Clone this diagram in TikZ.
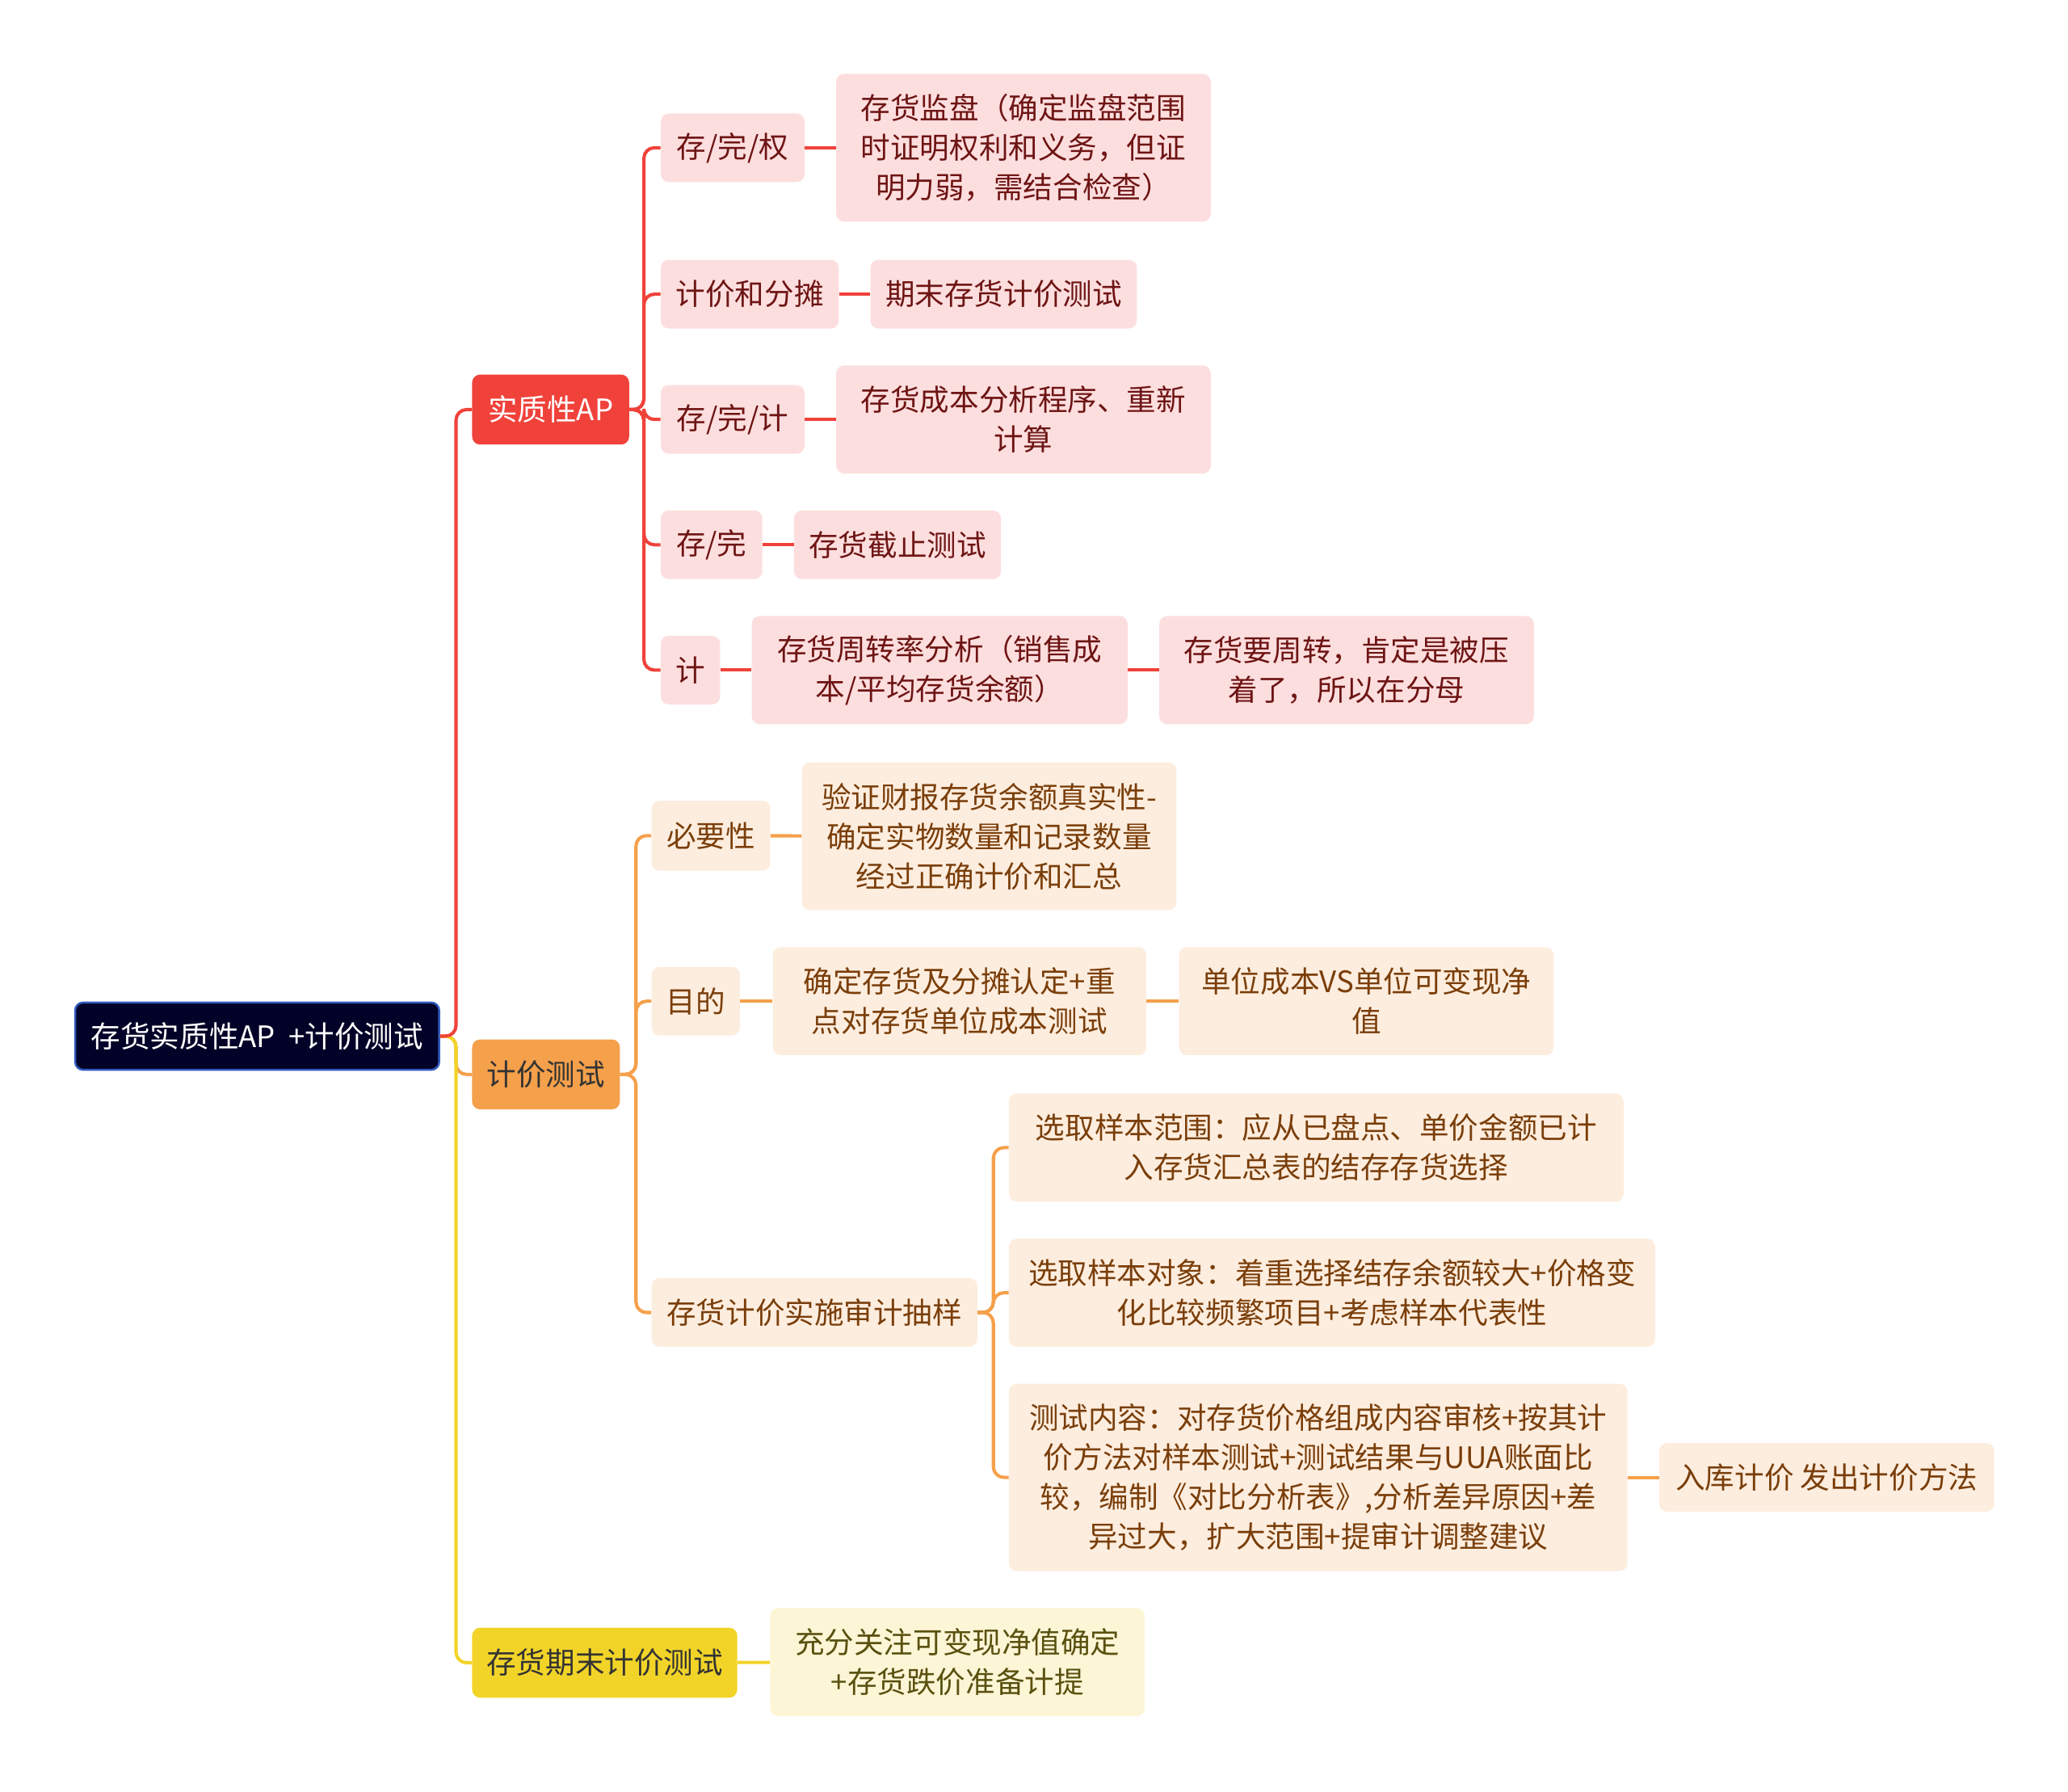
\documentclass[tikz,border=0pt]{standalone}
\usepackage{fontspec}
\newfontfamily\cjk{Noto Sans CJK SC}
\definecolor{navy}{RGB}{2, 2, 40}
\definecolor{navyedge}{RGB}{50, 90, 190}
\definecolor{redmain}{RGB}{240, 66, 58}
\definecolor{redsoft}{RGB}{253, 222, 222}
\definecolor{redtext}{RGB}{110, 20, 20}
\definecolor{orgmain}{RGB}{245, 160, 75}
\definecolor{orgsoft}{RGB}{253, 237, 222}
\definecolor{orgtext}{RGB}{122, 62, 10}
\definecolor{yelmain}{RGB}{242, 212, 40}
\definecolor{yelsoft}{RGB}{253, 246, 214}
\definecolor{yeltext}{RGB}{90, 80, 15}
\usetikzlibrary{positioning}

\begin{document}
\begin{tikzpicture}[
        x=1pt, y=-1pt,
        every node/.style={font=\cjk\fontsize{22.4}{30}\selectfont},
        box/.style={rectangle, rounded corners=6pt, align=center, inner sep=0pt},
        rootbox/.style={box, fill=navy, draw=navyedge, line width=1.5pt, text=white},
        redtop/.style={box, fill=redmain, text=white},
        orgtop/.style={box, fill=orgmain, text=black!80},
        yeltop/.style={box, fill=yelmain, text=black!80},
        redleaf/.style={box, fill=redsoft, text=redtext},
        orgleaf/.style={box, fill=orgsoft, text=orgtext},
        yelleaf/.style={box, fill=yelsoft, text=yeltext},
        redlink/.style={line width=2.5pt, draw=redmain, rounded corners=8pt},
        orglink/.style={line width=2.5pt, draw=orgmain, rounded corners=8pt},
        yellink/.style={line width=2.5pt, draw=yelmain, rounded corners=8pt}
    ]
        \useasboundingbox (0,0) rectangle (1568,1358);

        \node[rootbox, minimum width=276, minimum height=51] (root) at (195,785.5) {存货实质性AP\hspace{0.45em}+计价测试};

        \node[redtop, minimum width=119, minimum height=53] (szx) at (417.5,310.5) {实质性AP};
        \node[orgtop, minimum width=112, minimum height=53] (jjcs) at (414,814.5) {计价测试};
        \node[yeltop, minimum width=201, minimum height=53] (qmcs) at (458.5,1260.5) {存货期末计价测试};

        % 实质性AP
        \node[redleaf, minimum width=109, minimum height=52] (cwq) at (555.5,112) {存/完/权};
        \node[redleaf, minimum width=135, minimum height=52] (jjft) at (568.5,223) {计价和分摊};
        \node[redleaf, minimum width=109, minimum height=52] (cwj) at (555.5,318) {存/完/计};
        \node[redleaf, minimum width=77, minimum height=52] (cw) at (539.5,413) {存/完};
        \node[redleaf, minimum width=45, minimum height=52] (ji) at (523.5,508) {计};

        \node[redleaf, minimum width=284, minimum height=112] (jp) at (776,112) {存货监盘（确定监盘范围\\时证明权利和义务，但证\\明力弱，需结合检查）};
        \node[redleaf, minimum width=202, minimum height=52] (qmjj) at (761,223) {期末存货计价测试};
        \node[redleaf, minimum width=284, minimum height=82] (cbfx) at (776,318) {存货成本分析程序、重新\\计算};
        \node[redleaf, minimum width=157, minimum height=52] (jz) at (680.5,413) {存货截止测试};
        \node[redleaf, minimum width=285, minimum height=82] (zzl) at (712.5,508) {存货周转率分析（销售成\\本/平均存货余额）};
        \node[redleaf, minimum width=284, minimum height=82] (fm) at (1021,508) {存货要周转，肯定是被压\\着了，所以在分母};

        % 计价测试
        \node[orgleaf, minimum width=90, minimum height=53] (byx) at (539,633.5) {必要性};
        \node[orgleaf, minimum width=67, minimum height=52] (md) at (527.5,759) {目的};
        \node[orgleaf, minimum width=247, minimum height=52] (cy) at (617.5,995) {存货计价实施审计抽样};

        \node[orgleaf, minimum width=284, minimum height=112] (yz) at (750,634) {验证财报存货余额真实性-\\确定实物数量和记录数量\\经过正确计价和汇总};
        \node[orgleaf, minimum width=283, minimum height=82] (qd) at (727.5,759) {确定存货及分摊认定+重\\点对存货单位成本测试};
        \node[orgleaf, minimum width=284, minimum height=82] (dw) at (1036,759) {单位成本VS单位可变现净\\值};

        \node[orgleaf, minimum width=466, minimum height=82] (fw) at (998,870) {选取样本范围：应从已盘点、单价金额已计\\入存货汇总表的结存存货选择};
        \node[orgleaf, minimum width=490, minimum height=82] (dx) at (1010,980) {选取样本对象：着重选择结存余额较大+价格变\\化比较频繁项目+考虑样本代表性};
        \node[orgleaf, minimum width=469, minimum height=142] (nr) at (999.5,1120) {测试内容：对存货价格组成内容审核+按其计\\价方法对样本测试+测试结果与UUA账面比\\较，编制《对比分析表》,分析差异原因+差\\异过大，扩大范围+提审计调整建议};
        \node[orgleaf, minimum width=254, minimum height=52] (ff) at (1385,1120) {入库计价 发出计价方法};

        % 存货期末计价测试
        \node[yelleaf, minimum width=284, minimum height=82] (gz) at (726,1260) {充分关注可变现净值确定\\+存货跌价准备计提};

        \draw[orglink] (root.east) -- ++(12,0) |- (jjcs.west);
        \draw[yellink] (root.east) -- ++(12,0) |- (qmcs.west);
        \draw[redlink] (root.east) -- ++(12,0) |- (szx.west);

        \foreach \n in {cwq,jjft,cwj,cw,ji}
            \draw[redlink] (szx.east) -- ++(11,0) |- (\n.west);
        \draw[redlink] (cwq) -- (jp);
        \draw[redlink] (jjft) -- (qmjj);
        \draw[redlink] (cwj) -- (cbfx);
        \draw[redlink] (cw) -- (jz);
        \draw[redlink] (ji) -- (zzl);
        \draw[redlink] (zzl) -- (fm);

        \foreach \n in {byx,md,cy}
            \draw[orglink] (jjcs.east) -- ++(12,0) |- (\n.west);
        \draw[orglink] (byx) -- (yz);
        \draw[orglink] (md) -- (qd);
        \draw[orglink] (qd) -- (dw);
        \foreach \n in {fw,dx,nr}
            \draw[orglink] (cy.east) -- ++(12,0) |- (\n.west);
        \draw[orglink] (nr) -- (ff);

        \draw[yellink] (qmcs) -- (gz);
    \end{tikzpicture}
\end{document}
